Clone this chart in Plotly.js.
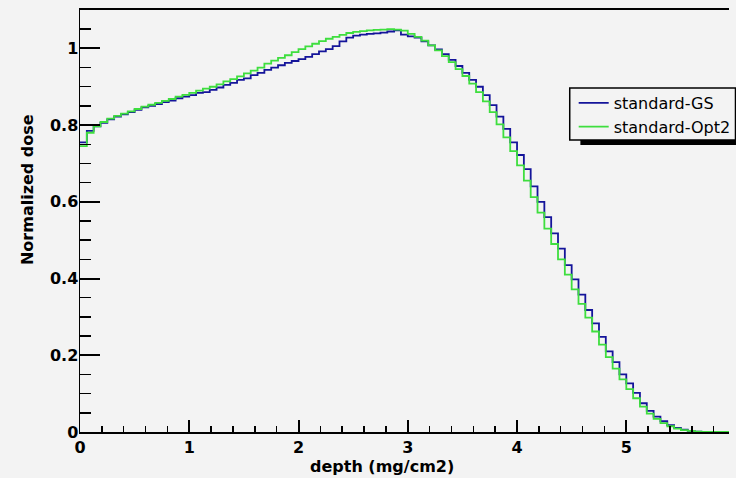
<!DOCTYPE html>
<html>
<head>
<meta charset="utf-8">
<script src="https://cdn.plot.ly/plotly-3.0.1.min.js"></script>
<style>html,body{margin:0;padding:0;background:#f3f3f3;}#chart{width:736px;height:478px;}</style>
</head>
<body>
<div id="chart"></div>
<script>
// Histogram binning (depth, mg/cm2)
const binLow = 0;
const binWidth = 0.0625;

// Normalized dose per bin
const doseGS = [
  0.755,0.785,0.797,0.806,0.815,0.822,0.828,0.834,0.840,0.846,
  0.850,0.855,0.860,0.864,0.870,0.874,0.878,0.884,0.886,0.892,
  0.898,0.905,0.910,0.918,0.922,0.930,0.936,0.944,0.950,0.956,
  0.962,0.967,0.972,0.978,0.985,0.992,0.998,1.006,1.018,1.028,
  1.033,1.036,1.038,1.039,1.041,1.044,1.047,1.036,1.031,1.028,
  1.018,1.008,0.997,0.985,0.970,0.954,0.936,0.918,0.900,0.878,
  0.852,0.822,0.790,0.755,0.722,0.685,0.640,0.600,0.560,0.518,
  0.478,0.435,0.398,0.358,0.318,0.283,0.248,0.210,0.182,0.150,
  0.127,0.102,0.075,0.055,0.040,0.028,0.018,0.011,0.006,0.003,
  0.001,0,0,0,0,0
];
const doseOpt2 = [
  0.745,0.780,0.797,0.808,0.817,0.824,0.830,0.836,0.842,0.848,
  0.853,0.858,0.863,0.868,0.874,0.879,0.884,0.890,0.895,0.900,
  0.906,0.914,0.920,0.927,0.935,0.942,0.950,0.960,0.968,0.975,
  0.982,0.990,0.998,1.005,1.012,1.019,1.025,1.030,1.035,1.040,
  1.043,1.045,1.047,1.048,1.049,1.050,1.049,1.046,1.038,1.030,
  1.020,1.008,0.995,0.980,0.964,0.946,0.928,0.908,0.886,0.862,
  0.834,0.802,0.768,0.732,0.695,0.655,0.612,0.572,0.530,0.490,
  0.450,0.410,0.372,0.334,0.298,0.262,0.228,0.195,0.165,0.137,
  0.112,0.088,0.066,0.048,0.034,0.023,0.015,0.009,0.005,0.003,
  0.001,0,0,0,0,0
];
const seriesNames = ['standard-GS', 'standard-Opt2'];
const seriesColors = ['#14149a', '#3ede3e'];
const xTickVals = [0, 1, 2, 3, 4, 5];
const yTickVals = [0, 0.2, 0.4, 0.6, 0.8, 1];
const xTitle = 'depth (mg/cm2)';
const yTitle = 'Normalized dose';

function histTrace(vals, name, color) {
  const x = vals.map((_, i) => binLow + i * binWidth);
  x.push(binLow + vals.length * binWidth);
  const y = vals.concat([vals[vals.length - 1]]);
  return {
    type: 'scatter', mode: 'lines', x: x, y: y, name: name,
    line: {shape: 'hv', color: color, width: 1.8},
    hoverinfo: 'skip'
  };
}

const font = {family: 'DejaVu Sans', size: 16, color: '#000'};
const boldFont = {family: 'DejaVu Sans', size: 16, color: '#000', weight: 'bold'};

const data = [
  histTrace(doseGS, seriesNames[0], seriesColors[0]),
  histTrace(doseOpt2, seriesNames[1], seriesColors[1])
];

const layout = {
  width: 736, height: 478,
  margin: {l: 80, r: 0, t: 10, b: 46, pad: 0},
  paper_bgcolor: '#f3f3f3', plot_bgcolor: '#f3f3f3',
  font: font,
  showlegend: true,
  xaxis: {
    range: [0, 5.94], tickvals: xTickVals, ticktext: xTickVals.map(String),
    ticks: 'inside', ticklen: 12, tickwidth: 2, tickcolor: '#000',
    showline: true, linecolor: '#000', linewidth: 2, mirror: true,
    showgrid: false, zeroline: false, tickfont: boldFont,
    minor: {dtick: 0.2, ticks: 'inside', ticklen: 6, tickwidth: 1.5, tickcolor: '#000', showgrid: false}
  },
  yaxis: {
    range: [0, 1.10], tickvals: yTickVals, ticktext: yTickVals.map(String),
    ticks: 'inside', ticklen: 20, tickwidth: 2, tickcolor: '#000',
    showline: true, linecolor: '#000', linewidth: 1.5,
    showgrid: false, zeroline: false, tickfont: boldFont, ticklabelstandoff: -3,
    minor: {dtick: 0.05, ticks: 'inside', ticklen: 11, tickwidth: 1.5, tickcolor: '#000', showgrid: false}
  },
  legend: {
    x: 0.7607, xanchor: 'left', y: 0.8200, yanchor: 'top',
    bgcolor: 'rgba(0,0,0,0)', borderwidth: 0,
    font: font, tracegroupgap: 0, itemwidth: 30
  },
  shapes: [
    {type: 'rect', xref: 'paper', yref: 'paper',
     x0: 0.7710, x1: 1.06, y0: 0.6801, y1: 0.6919,
     fillcolor: '#000', line: {width: 0}, layer: 'above'},
    {type: 'rect', xref: 'paper', yref: 'paper',
     x0: 0.7546, x1: 1.01, y0: 0.6919, y1: 0.8152,
     fillcolor: '#f3f3f3', line: {width: 1.5, color: '#000'}, layer: 'above'}
  ],
  annotations: [
    {text: yTitle, xref: 'paper', yref: 'paper', x: -0.080, y: 0.5735,
     xanchor: 'center', yanchor: 'middle', textangle: -90, showarrow: false, font: boldFont},
    {text: xTitle, xref: 'paper', yref: 'paper', x: 0.465, y: -0.0806,
     xanchor: 'center', yanchor: 'middle', showarrow: false, font: boldFont}
  ]
};

Plotly.newPlot('chart', data, layout, {displayModeBar: false, staticPlot: true});
</script>
</body>
</html>
